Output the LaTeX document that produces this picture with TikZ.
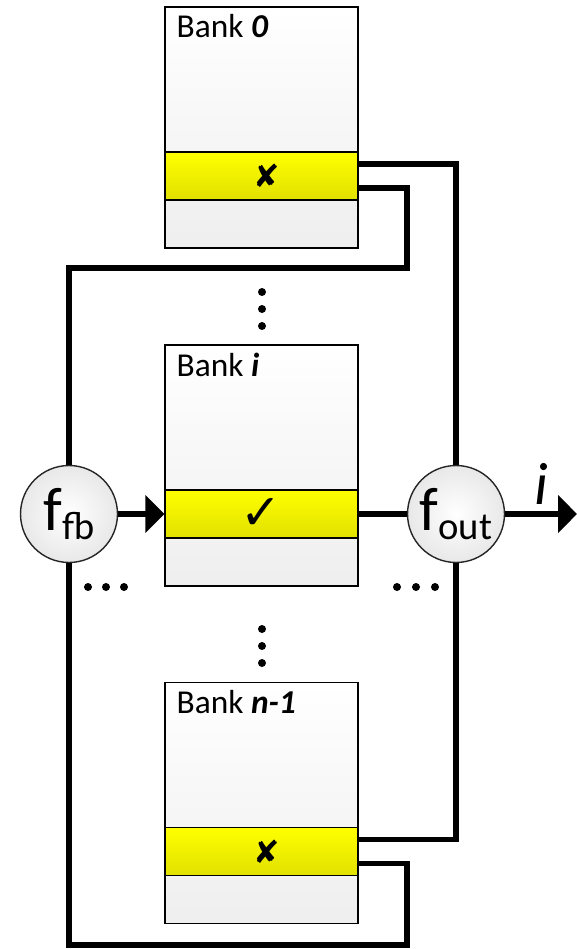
\documentclass[tikz,border=0pt]{standalone}
\usepackage{fontspec}
\setmainfont{Carlito}
\newfontfamily\symfont{DejaVu Sans}
\usetikzlibrary{arrows.meta}

\tikzset{
  bankbox/.style={draw, line width=0.8pt, top color=white, bottom color=gray!13,
    minimum width=3.86cm, minimum height=4.82cm, inner sep=0pt},
  rowbox/.style={draw, line width=0.8pt, top color=yellow, bottom color=yellow!88!black,
    minimum width=3.86cm, minimum height=0.96cm, inner sep=0pt},
  func/.style={circle, draw=gray!30!black, line width=0.8pt, inner color=white,
    outer color=gray!18, minimum size=1.94cm, inner sep=0pt},
  banklabel/.style={anchor=north west, inner sep=0pt, font=\fontsize{19}{22}\selectfont},
  wire/.style={line width=3.4pt},
  tip/.style={-{Triangle[length=0.38cm,width=0.74cm]}},
}

\begin{document}
\begin{tikzpicture}[x=0.02cm,y=-0.02cm]
\useasboundingbox (0,0) rectangle (577,949);

% memory banks
\node[bankbox] (bank0) at (261.5,127.5) {};
\node[bankbox] (banki) at (261.5,465.5) {};
\node[bankbox] (bankn) at (261.5,803) {};
\node[banklabel] (lab0) at ([xshift=0.24cm,yshift=-0.16cm]bank0.north west) {Bank \textbf{\textit{0}}};
\node[banklabel] (labi) at ([xshift=0.24cm,yshift=-0.16cm]banki.north west) {Bank \textbf{\textit{i}}};
\node[banklabel] (labn) at ([xshift=0.24cm,yshift=-0.16cm]bankn.north west) {Bank \textbf{\textit{n-1}}};

% selected rows
\node[rowbox, font=\fontsize{18}{18}\selectfont\symfont] (row0) at ([yshift=-0.97cm]bank0.center) {\hspace{0.22cm}✘};
\node[rowbox, font=\fontsize{28}{28}\selectfont\symfont] (rowi) at ([yshift=-0.97cm]banki.center) {✓};
\node[rowbox, font=\fontsize{18}{18}\selectfont\symfont] (rown) at ([yshift=-0.97cm]bankn.center) {\hspace{0.22cm}✘};

% feedback and output functions
\node[func, font=\fontsize{35}{35}\selectfont] (ffb) at (69,514) {f\raisebox{-5.5pt}{\fontsize{22}{22}\selectfont fb}};
\node[func, font=\fontsize{35}{35}\selectfont] (fout) at (456,514) {f\raisebox{-5.5pt}{\fontsize{22}{22}\selectfont out}};

\coordinate (bend0) at (407,268);
\coordinate (bendn) at (407,945);
\coordinate (out) at (577,514);

\draw[wire] ([yshift=0.24cm]row0.east) -| (fout);
\draw[wire] ([yshift=-0.24cm]row0.east) -| (bend0) -| (ffb);
\draw[wire] ([yshift=0.24cm]rown.east) -| (fout);
\draw[wire] ([yshift=-0.24cm]rown.east) -| (bendn) -| (ffb);
\draw[wire,tip] (ffb) -- (rowi);
\draw[wire] (rowi) -- (fout);
\draw[wire,tip] (fout) -- (out);
\node[anchor=base, font=\fontsize{34}{34}\selectfont\itshape] (idx) at (541,504) {i};

% elided banks
\foreach \y in {292,309,326,629,646,663}
  \fill (262,\y) circle[radius=0.08cm];
\foreach \x in {88,106,124,397,416,435}
  \fill (\x,587) circle[radius=0.08cm];
\end{tikzpicture}
\end{document}
